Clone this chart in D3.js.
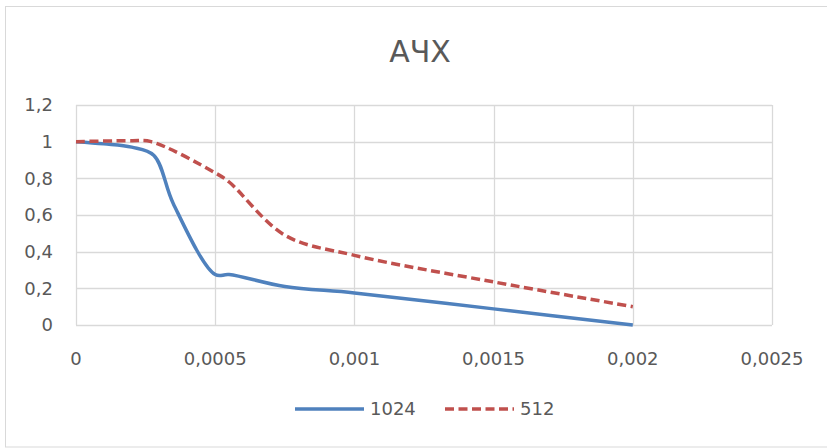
<!DOCTYPE html>
<html>
<head>
<meta charset="utf-8">
<script src="https://cdn.jsdelivr.net/npm/d3@7"></script>
<style>
  body { margin: 0; background: #fff; }
  text { font-family: "DejaVu Sans", sans-serif; fill: #595959; }
</style>
</head>
<body>
<svg id="chart" width="827" height="448"></svg>
<script>
// data
const title = "АЧХ"
const seriesNames = ["1024", "512"]
const x1024 = [0, 0.0001, 0.0002, 0.00028, 0.00035, 0.0005, 0.00055, 0.00075, 0.001, 0.0015, 0.002]
const y1024 = [1, 0.988, 0.97, 0.925, 0.66, 0.275, 0.275, 0.21, 0.175, 0.088, 0]
const x512 = [0, 0.0002, 0.00027, 0.0005, 0.00055, 0.00075, 0.001, 0.0015, 0.002]
const y512 = [1, 1.005, 1.0, 0.83, 0.78, 0.49, 0.38, 0.235, 0.1]
const xTicks = [0, 0.0005, 0.001, 0.0015, 0.002, 0.0025]
const yTicks = [0, 0.2, 0.4, 0.6, 0.8, 1, 1.2]

const margin = {top: 105, right: 55, bottom: 123, left: 76}
const width = 827, height = 448

let svg = d3.select("#chart")

// outer chart border
svg.append("rect")
  .attr("x", 5.5).attr("y", 6.5)
  .attr("width", 830).attr("height", 440.5)
  .attr("fill", "none").attr("stroke", "#d9d9d9")

let x = d3.scaleLinear().domain([0, 0.0025]).range([margin.left, width - margin.right])
let y = d3.scaleLinear().domain([0, 1.2]).range([height - margin.bottom, margin.top])

const fmt = v => String(+v.toFixed(6)).replace(".", ",")

// gridlines
svg.append("g").selectAll("line").data(yTicks).enter().append("line")
  .attr("x1", x(0)).attr("x2", x(0.0025))
  .attr("y1", d => Math.round(y(d)) + 0.5).attr("y2", d => Math.round(y(d)) + 0.5)
  .attr("stroke", "#d9d9d9").attr("stroke-width", 1.3)
svg.append("g").selectAll("line").data(xTicks).enter().append("line")
  .attr("y1", y(0)).attr("y2", y(1.2))
  .attr("x1", d => Math.round(x(d)) + 0.5).attr("x2", d => Math.round(x(d)) + 0.5)
  .attr("stroke", "#d9d9d9").attr("stroke-width", 1.3)

// tick labels
svg.append("g").selectAll("text").data(yTicks).enter().append("text")
  .attr("x", 53).attr("y", d => y(d)).attr("dy", "0.36em")
  .attr("text-anchor", "end").attr("font-size", 18)
  .text(fmt)
svg.append("g").selectAll("text").data(xTicks).enter().append("text")
  .attr("x", d => x(d)).attr("y", 365)
  .attr("text-anchor", "middle").attr("font-size", 18)
  .text(fmt)

// title
svg.append("text")
  .attr("x", 420).attr("y", 62)
  .attr("text-anchor", "middle").attr("font-size", 30)
  .text(title)

let line = d3.line()
  .x(d => x(d[0])).y(d => y(d[1]))
  .curve(d3.curveCatmullRom.alpha(0.5))

const series = [
  {name: seriesNames[0], pts: d3.zip(x1024, y1024), color: "#4f81bd", dash: null},
  {name: seriesNames[1], pts: d3.zip(x512, y512), color: "#c0504d", dash: "9,4.5"}
]

series.forEach(s => {
  svg.append("path")
    .attr("d", line(s.pts))
    .attr("fill", "none")
    .attr("stroke", s.color)
    .attr("stroke-width", 3.5)
    .attr("stroke-dasharray", s.dash)
})

// legend
const legendX = [295, 445]
series.forEach((s, i) => {
  svg.append("line")
    .attr("x1", legendX[i]).attr("x2", legendX[i] + 69)
    .attr("y1", 409).attr("y2", 409)
    .attr("stroke", s.color).attr("stroke-width", 3.5)
    .attr("stroke-dasharray", s.dash)
  svg.append("text")
    .attr("x", legendX[i] + 75).attr("y", 409).attr("dy", "0.36em")
    .attr("font-size", 18)
    .text(s.name)
})
</script>
</body>
</html>
